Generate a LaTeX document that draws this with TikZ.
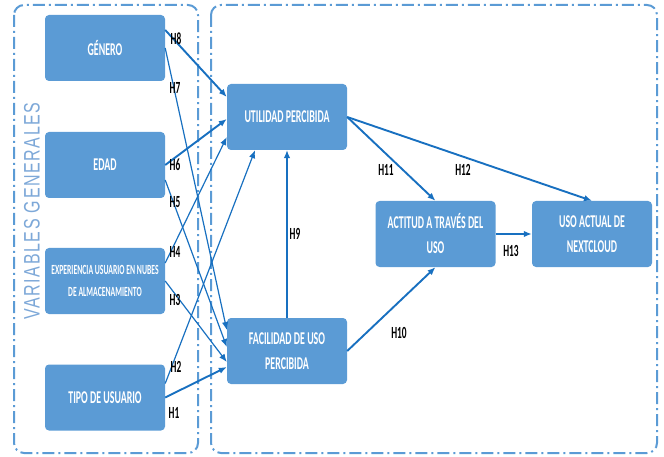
\documentclass[tikz,border=0pt]{standalone}
\usepackage{fontspec}
\usepackage{tikz}
\usetikzlibrary{arrows.meta,positioning,calc}
\newfontfamily\boxfont[FakeStretch=0.55]{Carlito}
\newfontfamily\sidefont[LetterSpace=10]{Liberation Sans}
\definecolor{boxblue}{RGB}{91,155,213}
\definecolor{arrowblue}{RGB}{24,112,192}
\definecolor{sideblue}{RGB}{125,168,216}

\begin{document}
\begin{tikzpicture}[x=1pt, y=-1pt, >={Latex[length=8pt,width=6.5pt]},
  every node/.style={font=\boxfont\bfseries\fontsize{18}{25}\selectfont},
  varbox/.style={fill=boxblue, rounded corners=4pt, minimum width=120pt, minimum height=66pt, inner sep=0pt, text=white, align=center},
  hyp/.style={font=\boxfont\bfseries\fontsize{17}{17}\selectfont, inner sep=0pt},
  link/.style={->, draw=arrowblue, line width=1.9pt},
  thinlink/.style={->, draw=arrowblue, line width=1.2pt},
  frame/.style={draw=boxblue, line width=2pt, rounded corners=10pt, dash pattern=on 12pt off 4pt on 2pt off 4pt}]
\useasboundingbox (0,0) rectangle (664,457);
\draw[frame] (14,5) rectangle (198,453);
\draw[frame] (211,5) rectangle (657,453);
\node[text=sideblue, rotate=90, font=\sidefont\fontsize{16}{16}\selectfont] (side) at (32,211) {\scalebox{1}[1.4]{VARIABLES GENERALES}};

\node[varbox] (genero) at (105,48) {GÉNERO};
\node[varbox] (edad) at (105,165) {EDAD};
\node[varbox, font=\boxfont\bfseries\fontsize{14}{22}\selectfont] (experiencia) at (105,281) {EXPERIENCIA USUARIO EN NUBES\\DE ALMACENAMIENTO};
\node[varbox] (tipo) at (105,397.5) {TIPO DE USUARIO};
\node[varbox] (utilidad) at (287,117) {UTILIDAD PERCIBIDA};
\node[varbox] (facilidad) at (287,351) {FACILIDAD DE USO\\PERCIBIDA};
\node[varbox] (actitud) at (435.5,234) {ACTITUD A TRAVÉS DEL\\USO};
\node[varbox] (uso) at (592,234) {USO ACTUAL DE\\NEXTCLOUD};

% variables generales
\draw[link] ([yshift=18pt]genero.east) -- ([yshift=20pt]utilidad.west);
\draw[thinlink] (genero.east) -- ([yshift=21pt]facilidad.west);
\draw[link] (edad.east) -- ([yshift=-2pt]utilidad.west);
\draw[thinlink] ([yshift=-15pt]edad.east) -- ([yshift=4pt]facilidad.west);
\draw[thinlink] ([yshift=18pt]experiencia.east) -- ([yshift=-20pt]utilidad.west);
\draw[thinlink] (experiencia.east) -- ([yshift=-11pt]facilidad.west);
\draw[thinlink] ([yshift=14pt]tipo.east) -- ([xshift=-32pt]utilidad.south);
\draw[link] (tipo.east) -- ([yshift=-16pt]facilidad.west);
% modelo
\draw[thinlink] (facilidad) -- (utilidad);
\draw[link] (facilidad.east) -- (actitud.south);
\draw[link] (utilidad.east) -- (actitud.north);
\draw[link] (utilidad.east) -- (uso.north);
\draw[link] (actitud.east) -- (uso.west);

\node[hyp] (h8) at (176,39) {H8};
\node[hyp] (h7) at (175,88) {H7};
\node[hyp] (h6) at (175,165) {H6};
\node[hyp] (h5) at (175,202) {H5};
\node[hyp] (h4) at (175,252) {H4};
\node[hyp] (h3) at (175,300) {H3};
\node[hyp] (h2) at (176,367) {H2};
\node[hyp] (h1) at (174,413) {H1};
\node[hyp] (h9) at (295,234) {H9};
\node[hyp] (h10) at (399,333) {H10};
\node[hyp] (h11) at (386,170) {H11};
\node[hyp] (h12) at (463,170) {H12};
\node[hyp] (h13) at (511,251) {H13};
\end{tikzpicture}
\end{document}
